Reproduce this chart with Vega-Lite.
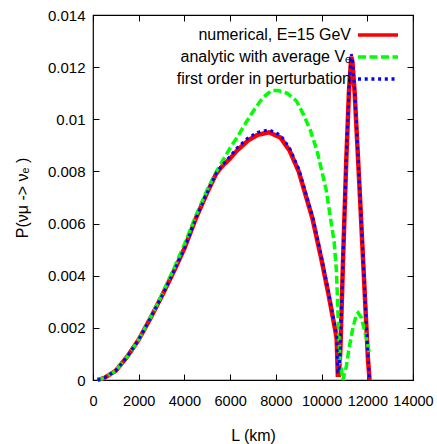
{
  "$schema": "https://vega.github.io/schema/vega-lite/v6.json",
  "autosize": {"type": "none"},
  "padding": {"left": 93, "top": 15, "right": 24, "bottom": 64},
  "width": 320,
  "height": 365,
  "config": {
    "view": {"stroke": "#000000", "strokeWidth": 1.2},
    "font": "Liberation Sans",
    "axis": {"labelFont": "Liberation Sans", "titleFont": "Liberation Sans", "labelColor": "#000", "titleColor": "#000", "titleFontWeight": "normal", "labelFontSize": 15, "titleFontSize": 16, "grid": false, "domain": false, "tickColor": "#000", "tickSize": -6, "tickWidth": 1, "labelOverlap": false},
    "legend": {"labelFont": "Liberation Sans", "labelFontSize": 16, "labelColor": "#000", "labelLimit": 400}
  },
  "data": {"values": [
    {"series": "numerical, E=15 GeV", "L": 200, "P": 0.0},
    {"series": "numerical, E=15 GeV", "L": 500, "P": 0.00008},
    {"series": "numerical, E=15 GeV", "L": 1000, "P": 0.00036},
    {"series": "numerical, E=15 GeV", "L": 1500, "P": 0.0009},
    {"series": "numerical, E=15 GeV", "L": 2000, "P": 0.00155},
    {"series": "numerical, E=15 GeV", "L": 2500, "P": 0.00235},
    {"series": "numerical, E=15 GeV", "L": 3000, "P": 0.0032},
    {"series": "numerical, E=15 GeV", "L": 3500, "P": 0.0041},
    {"series": "numerical, E=15 GeV", "L": 4000, "P": 0.00505},
    {"series": "numerical, E=15 GeV", "L": 4500, "P": 0.0062},
    {"series": "numerical, E=15 GeV", "L": 5000, "P": 0.0072},
    {"series": "numerical, E=15 GeV", "L": 5400, "P": 0.00793},
    {"series": "numerical, E=15 GeV", "L": 5650, "P": 0.0082},
    {"series": "numerical, E=15 GeV", "L": 6000, "P": 0.0085},
    {"series": "numerical, E=15 GeV", "L": 6300, "P": 0.0088},
    {"series": "numerical, E=15 GeV", "L": 6800, "P": 0.0092},
    {"series": "numerical, E=15 GeV", "L": 7200, "P": 0.0094},
    {"series": "numerical, E=15 GeV", "L": 7700, "P": 0.0095},
    {"series": "numerical, E=15 GeV", "L": 8200, "P": 0.0093},
    {"series": "numerical, E=15 GeV", "L": 8600, "P": 0.0088},
    {"series": "numerical, E=15 GeV", "L": 9000, "P": 0.008},
    {"series": "numerical, E=15 GeV", "L": 9300, "P": 0.0071},
    {"series": "numerical, E=15 GeV", "L": 9600, "P": 0.0062},
    {"series": "numerical, E=15 GeV", "L": 10000, "P": 0.0046},
    {"series": "numerical, E=15 GeV", "L": 10300, "P": 0.0033},
    {"series": "numerical, E=15 GeV", "L": 10600, "P": 0.0019},
    {"series": "numerical, E=15 GeV", "L": 10660, "P": 0.0016},
    {"series": "numerical, E=15 GeV", "L": 10710, "P": 0.0002},
    {"series": "numerical, E=15 GeV", "L": 10760, "P": 0.0002},
    {"series": "numerical, E=15 GeV", "L": 10820, "P": 0.0011},
    {"series": "numerical, E=15 GeV", "L": 10940, "P": 0.0046},
    {"series": "numerical, E=15 GeV", "L": 11080, "P": 0.0084},
    {"series": "numerical, E=15 GeV", "L": 11200, "P": 0.0111},
    {"series": "numerical, E=15 GeV", "L": 11300, "P": 0.0124},
    {"series": "numerical, E=15 GeV", "L": 11350, "P": 0.0122},
    {"series": "numerical, E=15 GeV", "L": 11450, "P": 0.011},
    {"series": "numerical, E=15 GeV", "L": 11670, "P": 0.0072},
    {"series": "numerical, E=15 GeV", "L": 11890, "P": 0.0033},
    {"series": "numerical, E=15 GeV", "L": 12030, "P": 0.0008},
    {"series": "numerical, E=15 GeV", "L": 12100, "P": 0.0},

    {"series": "analytic with average Vₑ", "L": 200, "P": 0.0},
    {"series": "analytic with average Vₑ", "L": 500, "P": 0.00008},
    {"series": "analytic with average Vₑ", "L": 1000, "P": 0.00036},
    {"series": "analytic with average Vₑ", "L": 1500, "P": 0.0009},
    {"series": "analytic with average Vₑ", "L": 2000, "P": 0.00155},
    {"series": "analytic with average Vₑ", "L": 2500, "P": 0.00237},
    {"series": "analytic with average Vₑ", "L": 3000, "P": 0.00325},
    {"series": "analytic with average Vₑ", "L": 3500, "P": 0.0042},
    {"series": "analytic with average Vₑ", "L": 4000, "P": 0.0052},
    {"series": "analytic with average Vₑ", "L": 4500, "P": 0.0063},
    {"series": "analytic with average Vₑ", "L": 5000, "P": 0.0073},
    {"series": "analytic with average Vₑ", "L": 5400, "P": 0.008},
    {"series": "analytic with average Vₑ", "L": 5700, "P": 0.00845},
    {"series": "analytic with average Vₑ", "L": 6000, "P": 0.0089},
    {"series": "analytic with average Vₑ", "L": 6300, "P": 0.0093},
    {"series": "analytic with average Vₑ", "L": 6850, "P": 0.0101},
    {"series": "analytic with average Vₑ", "L": 7400, "P": 0.0108},
    {"series": "analytic with average Vₑ", "L": 7800, "P": 0.0111},
    {"series": "analytic with average Vₑ", "L": 8100, "P": 0.0111},
    {"series": "analytic with average Vₑ", "L": 8500, "P": 0.011},
    {"series": "analytic with average Vₑ", "L": 8900, "P": 0.0107},
    {"series": "analytic with average Vₑ", "L": 9200, "P": 0.0102},
    {"series": "analytic with average Vₑ", "L": 9500, "P": 0.0096},
    {"series": "analytic with average Vₑ", "L": 9800, "P": 0.0088},
    {"series": "analytic with average Vₑ", "L": 10200, "P": 0.0073},
    {"series": "analytic with average Vₑ", "L": 10550, "P": 0.0053},
    {"series": "analytic with average Vₑ", "L": 10650, "P": 0.0042},
    {"series": "analytic with average Vₑ", "L": 10720, "P": 0.0025},
    {"series": "analytic with average Vₑ", "L": 10800, "P": 0.0008},
    {"series": "analytic with average Vₑ", "L": 10930, "P": 0.0},
    {"series": "analytic with average Vₑ", "L": 11080, "P": 0.0005},
    {"series": "analytic with average Vₑ", "L": 11200, "P": 0.0012},
    {"series": "analytic with average Vₑ", "L": 11370, "P": 0.002},
    {"series": "analytic with average Vₑ", "L": 11520, "P": 0.0025},
    {"series": "analytic with average Vₑ", "L": 11600, "P": 0.00258},
    {"series": "analytic with average Vₑ", "L": 11740, "P": 0.0024},
    {"series": "analytic with average Vₑ", "L": 11850, "P": 0.002},
    {"series": "analytic with average Vₑ", "L": 11960, "P": 0.0016},
    {"series": "analytic with average Vₑ", "L": 12100, "P": 0.001},

    {"series": "first order in perturbation", "L": 200, "P": 0.0},
    {"series": "first order in perturbation", "L": 500, "P": 0.00008},
    {"series": "first order in perturbation", "L": 1000, "P": 0.00036},
    {"series": "first order in perturbation", "L": 1500, "P": 0.0009},
    {"series": "first order in perturbation", "L": 2000, "P": 0.00155},
    {"series": "first order in perturbation", "L": 2500, "P": 0.00235},
    {"series": "first order in perturbation", "L": 3000, "P": 0.0032},
    {"series": "first order in perturbation", "L": 3500, "P": 0.0041},
    {"series": "first order in perturbation", "L": 4000, "P": 0.00505},
    {"series": "first order in perturbation", "L": 4500, "P": 0.0062},
    {"series": "first order in perturbation", "L": 5000, "P": 0.0072},
    {"series": "first order in perturbation", "L": 5400, "P": 0.00795},
    {"series": "first order in perturbation", "L": 5650, "P": 0.00823},
    {"series": "first order in perturbation", "L": 6000, "P": 0.00858},
    {"series": "first order in perturbation", "L": 6300, "P": 0.0089},
    {"series": "first order in perturbation", "L": 6800, "P": 0.0093},
    {"series": "first order in perturbation", "L": 7200, "P": 0.0095},
    {"series": "first order in perturbation", "L": 7700, "P": 0.0096},
    {"series": "first order in perturbation", "L": 8200, "P": 0.0094},
    {"series": "first order in perturbation", "L": 8600, "P": 0.0089},
    {"series": "first order in perturbation", "L": 9000, "P": 0.0081},
    {"series": "first order in perturbation", "L": 9300, "P": 0.0072},
    {"series": "first order in perturbation", "L": 9600, "P": 0.0063},
    {"series": "first order in perturbation", "L": 10000, "P": 0.0047},
    {"series": "first order in perturbation", "L": 10300, "P": 0.0034},
    {"series": "first order in perturbation", "L": 10600, "P": 0.002},
    {"series": "first order in perturbation", "L": 10660, "P": 0.0017},
    {"series": "first order in perturbation", "L": 10710, "P": 0.0003},
    {"series": "first order in perturbation", "L": 10760, "P": 0.0003},
    {"series": "first order in perturbation", "L": 10820, "P": 0.0012},
    {"series": "first order in perturbation", "L": 10940, "P": 0.0047},
    {"series": "first order in perturbation", "L": 11080, "P": 0.0085},
    {"series": "first order in perturbation", "L": 11200, "P": 0.0112},
    {"series": "first order in perturbation", "L": 11300, "P": 0.0125},
    {"series": "first order in perturbation", "L": 11350, "P": 0.0123},
    {"series": "first order in perturbation", "L": 11450, "P": 0.0111},
    {"series": "first order in perturbation", "L": 11670, "P": 0.0073},
    {"series": "first order in perturbation", "L": 11890, "P": 0.0034},
    {"series": "first order in perturbation", "L": 12030, "P": 0.0009},
    {"series": "first order in perturbation", "L": 12100, "P": 0.0}
  ]},
  "resolve": {"axis": {"x": "independent", "y": "independent"}},
  "layer": [
    {
      "transform": [{"filter": "datum.series === 'numerical, E=15 GeV'"}],
      "mark": {"type": "line", "strokeWidth": 4.5, "strokeCap": "butt"},
      "encoding": {
        "x": {"field": "L", "type": "quantitative", "scale": {"domain": [0, 14000], "nice": false, "zero": false}, "axis": {"orient": "bottom", "values": [0, 2000, 4000, 6000, 8000, 10000, 12000, 14000], "format": "d", "title": "L (km)", "labelPadding": 20, "titlePadding": 20, "labelFontSize": 14.5, "labelFlush": false}},
        "y": {"field": "P", "type": "quantitative", "scale": {"domain": [0, 0.014], "nice": false}, "axis": {"orient": "left", "values": [0, 0.002, 0.004, 0.006, 0.008, 0.01, 0.012, 0.014], "format": "~g", "title": "P(νμ -> νₑ )", "labelPadding": 14, "titlePadding": 17, "labelFlush": false}},
        "color": {"field": "series", "type": "nominal", "scale": {"domain": ["numerical, E=15 GeV", "analytic with average Vₑ", "first order in perturbation"], "range": ["#ff0000", "#00ff00", "#0000ff"]}, "legend": {"title": null, "orient": "none", "legendX": 277, "legendY": 12, "labelAlign": "right", "labelOffset": -35, "symbolType": "M-4,0H4", "symbolSize": 100, "symbolStrokeWidth": 3.5, "symbolFillColor": "transparent", "rowPadding": 6, "padding": 0}},
        "strokeDash": {"field": "series", "type": "nominal", "scale": {"domain": ["numerical, E=15 GeV", "analytic with average Vₑ", "first order in perturbation"], "range": [[1, 0], [8, 3.5], [3, 3.7]]}, "legend": {"title": null}}
      }
    },
    {
      "transform": [{"filter": "datum.series === 'analytic with average Vₑ'"}],
      "mark": {"type": "line", "strokeWidth": 3.5, "strokeCap": "butt"},
      "encoding": {
        "x": {"field": "L", "type": "quantitative", "axis": null},
        "y": {"field": "P", "type": "quantitative", "axis": null},
        "color": {"field": "series", "type": "nominal"},
        "strokeDash": {"field": "series", "type": "nominal"}
      }
    },
    {
      "transform": [{"filter": "datum.series === 'first order in perturbation'"}],
      "mark": {"type": "line", "strokeWidth": 3, "strokeCap": "butt"},
      "encoding": {
        "x": {"field": "L", "type": "quantitative", "axis": null},
        "y": {"field": "P", "type": "quantitative", "axis": null},
        "color": {"field": "series", "type": "nominal"},
        "strokeDash": {"field": "series", "type": "nominal"}
      }
    },
    {
      "mark": {"type": "point", "opacity": 0},
      "encoding": {
        "x": {"field": "L", "type": "quantitative", "axis": {"orient": "top", "values": [0, 2000, 4000, 6000, 8000, 10000, 12000, 14000], "labels": false, "title": null}},
        "y": {"field": "P", "type": "quantitative", "axis": {"orient": "right", "values": [0, 0.002, 0.004, 0.006, 0.008, 0.01, 0.012, 0.014], "labels": false, "title": null}}
      }
    }
  ]
}
